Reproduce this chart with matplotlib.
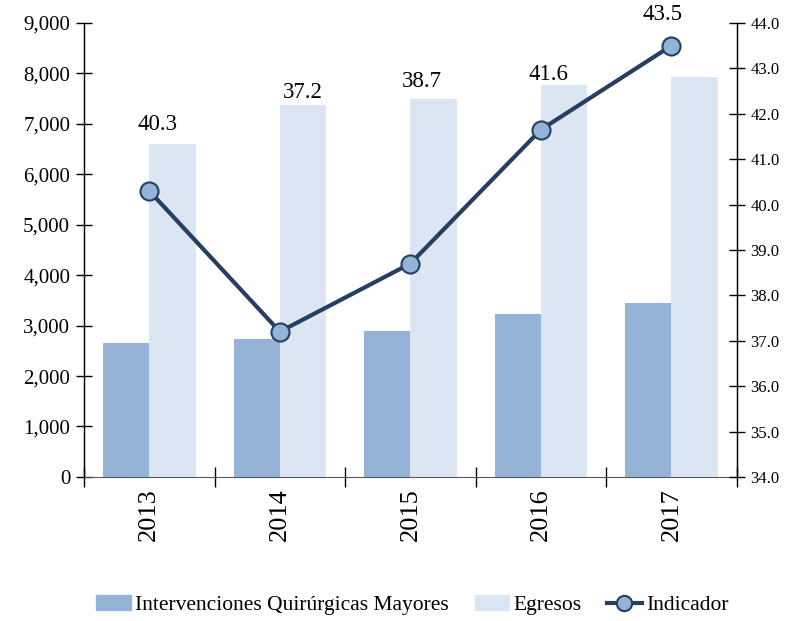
import numpy as np
import matplotlib.pyplot as plt
from matplotlib.ticker import FuncFormatter, FixedLocator, NullFormatter
from matplotlib.lines import Line2D
from matplotlib.patches import Patch

plt.rcParams["font.family"] = ["Liberation Serif", "DejaVu Serif"]

# data
years = ["2013", "2014", "2015", "2016", "2017"]
intervenciones = [2660, 2735, 2895, 3230, 3445]
egresos = [6600, 7370, 7490, 7770, 7920]
indicador = [40.3, 37.2, 38.7, 41.65, 43.5]
indicador_labels = ["40.3", "37.2", "38.7", "41.6", "43.5"]

# label offsets (pixels) as they sit in the original
label_offsets = [(8, 66), (23, 239), (11, 182), (8, 55), (-9, 31)]

c_interv = "#95B3D7"
c_egresos = "#DCE6F2"
c_line = "#243F60"

fig = plt.figure(figsize=(7.93, 6.21), dpi=100)
ax = fig.add_axes([0.106, 0.232, 0.823, 0.731])
ax2 = ax.twinx()

x = np.arange(len(years))
w = 0.355
ax.bar(x - w / 2, intervenciones, w, color=c_interv, zorder=2)
ax.bar(x + w / 2, egresos, w, color=c_egresos, zorder=2)

ax2.plot(x, indicador, color=c_line, lw=3, marker="o", ms=13,
         mfc=c_interv, mec=c_line, mew=1.5, zorder=5)
for i, (v, lab) in enumerate(zip(indicador, indicador_labels)):
    dx, dy = label_offsets[i]
    ax2.annotate(lab, (x[i], v), xytext=(dx, dy), textcoords="offset pixels",
                 ha="center", va="center", fontsize=16.5, color="black")

ax.set_xlim(-0.5, 4.5)
ax.set_ylim(0, 9000)
ax2.set_ylim(34, 44)
ax.set_yticks(np.arange(0, 9001, 1000))
ax.yaxis.set_major_formatter(FuncFormatter(lambda v, p: f"{v:,.0f}"))
ax2.set_yticks(np.arange(34, 44.01, 1))
ax2.yaxis.set_major_formatter(FuncFormatter(lambda v, p: f"{v:.1f}"))

ax.set_xticks(x)
ax.set_xticklabels(years, rotation=90, fontsize=19)
ax.xaxis.set_minor_locator(FixedLocator(np.arange(-0.5, 4.6, 1)))
ax.xaxis.set_minor_formatter(NullFormatter())
ax.tick_params(axis="x", which="major", length=0, pad=8)
ax.tick_params(axis="x", which="minor", direction="inout", length=15, width=1)
ax.tick_params(axis="y", direction="inout", length=12, width=1, labelsize=15, pad=4)
ax2.tick_params(axis="y", direction="inout", length=12, width=1, labelsize=12, pad=4)

for a in (ax, ax2):
    a.spines["top"].set_visible(False)
ax.spines["bottom"].set_color("#595959")
ax2.spines["bottom"].set_visible(False)
ax.spines["left"].set_linewidth(1)
ax2.spines["right"].set_linewidth(1)

handles = [
    Patch(color=c_interv, label="Intervenciones Quirúrgicas Mayores"),
    Patch(color=c_egresos, label="Egresos"),
    Line2D([0], [0], color=c_line, lw=3, marker="o", ms=11, mfc=c_interv,
           mec=c_line, mew=1.5, label="Indicador"),
]
fig.legend(handles=handles, loc="lower center", bbox_to_anchor=(0.52, -0.022),
           ncol=3, frameon=False, fontsize=15.5, handlelength=1.6,
           handletextpad=0.2, columnspacing=1.2)

plt.savefig("out.png", dpi=100)
